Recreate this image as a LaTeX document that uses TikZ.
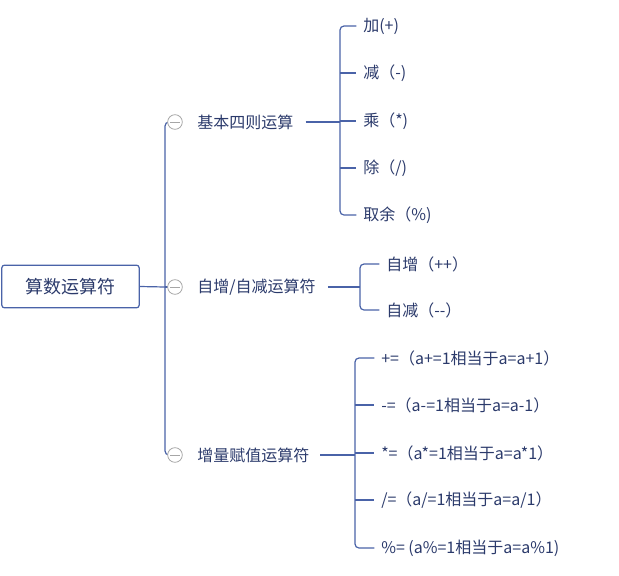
\documentclass[tikz,border=0pt]{standalone}
\usepackage{fontspec}
\setmainfont{Noto Sans CJK SC}
\begin{document}
\begin{tikzpicture}[x=0.75pt,y=-0.75pt,
  ln/.style={draw=lineblue,line width=0.9pt},
  txt/.style={anchor=west,inner sep=0pt,text=textblue,font=\fontsize{12pt}{14pt}\selectfont},
  tog/.style={circle,draw=gray!70,fill=white,line width=0.6pt,minimum size=11pt,inner sep=0pt}]
\definecolor{lineblue}{HTML}{4A63A8}
\definecolor{textblue}{HTML}{2B3A6B}
\useasboundingbox (0,0) rectangle (619,576);
\node[draw=lineblue,line width=0.9pt,rounded corners=2pt,minimum width=103pt,minimum height=32pt,text=textblue,font=\fontsize{13.5pt}{15pt}\selectfont] (root) at (70.5,286.5) {算数运算符};
\coordinate (r) at (165,287);
\draw[ln] (root.east) -- (r);
\draw[ln,rounded corners=3pt] (175,122) -- (165,122) -- (165,455) -- (175,455);
\draw[ln] (r) -- (175,287);
\foreach \n/\y in {a/122,b/287,c/455}{
  \node[tog] (t\n) at (175,\y) {};
  \draw[gray!70,line width=0.7pt] (170,\y) -- (180,\y);
}
\node[txt] (la) at (197,122) {基本四则运算};
\node[txt] (lb) at (197,287) {自增/自减运算符};
\node[txt] (lc) at (197,455) {增量赋值运算符};
% group a
\foreach \n/\y/\t in {1/26/{加(+)},2/73/{减（-)},3/121/{乘（*)},4/168/{除（/)},5/215/{取余（\%)}}{
  \node[txt] (a\n) at (363,\y) {\t};
}
\draw[ln] ([xshift=9pt]la.east) -- (340,122);
\draw[ln,rounded corners=3pt] ([xshift=-5pt]a1.west) -- (340,26) -- (340,215) -- ([xshift=-5pt]a5.west);
\foreach \n in {2,3,4} \draw[ln] (340,0 |- a\n.west) -- ([xshift=-5pt]a\n.west);
% group b
\node[txt] (b1) at (386,264) {自增（++）};
\node[txt] (b2) at (386,310) {自减（-{}-）};
\draw[ln] ([xshift=9pt]lb.east) -- (360,287);
\draw[ln,rounded corners=3pt] ([xshift=-5pt]b1.west) -- (360,264) -- (360,310) -- ([xshift=-5pt]b2.west);
% group c
\foreach \n/\y/\t in {1/358/{+=（a+=1相当于a=a+1）},2/405/{-=（a-=1相当于a=a-1）},3/453/{*=（a*=1相当于a=a*1）},4/500/{/=（a/=1相当于a=a/1）},5/548/{\%= (a\%=1相当于a=a\%1)}}{
  \node[txt] (c\n) at (381,\y) {\t};
}
\draw[ln] ([xshift=8pt]lc.east) -- (355,455);
\draw[ln,rounded corners=3pt] ([xshift=-5pt]c1.west) -- (355,358) -- (355,548) -- ([xshift=-5pt]c5.west);
\foreach \n in {2,3,4} \draw[ln] (355,0 |- c\n.west) -- ([xshift=-5pt]c\n.west);
\end{tikzpicture}
\end{document}
